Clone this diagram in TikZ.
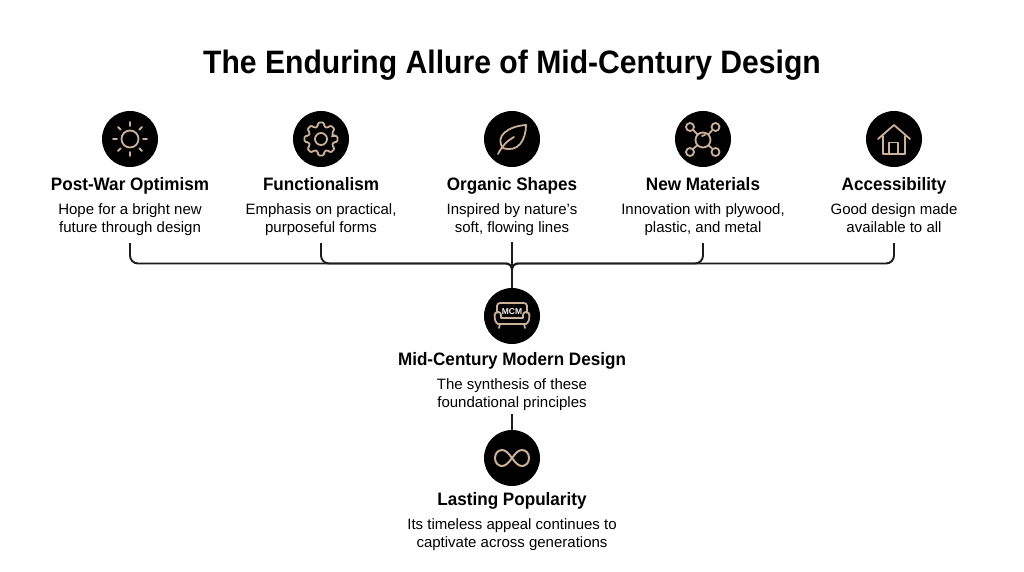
\documentclass[tikz,border=0pt]{standalone}
\usepackage{fontspec}
\setmainfont{Liberation Sans}
\newfontfamily\headfont[FakeStretch=0.95]{Liberation Sans}
\newfontfamily\titlefont[FakeStretch=0.93]{Liberation Sans}
\definecolor{tan}{HTML}{CBB09A}
\definecolor{ink}{HTML}{1C1C1C}
\tikzset{
  x=1pt,y=-1pt,
  disc/.style={circle,fill=black,minimum size=56pt,inner sep=0pt},
  head/.style={inner sep=0pt,align=center,text=black,text height=13pt,text depth=4pt,font=\headfont\fontsize{18}{20}\selectfont\bfseries},
  desc/.style={inner sep=0pt,align=center,text=black,font=\fontsize{15}{18}\selectfont,execute at begin node=\strut,execute at end node=\strut},
  icon/.style={draw=tan,line width=1.8pt,line cap=round,line join=round},
  bar/.style={draw=ink,line width=1.9pt}
}
\begin{document}
\begin{tikzpicture}
\useasboundingbox (0,0) rectangle (1024,572);
\fill[white] (0,0) rectangle (1024,572);
\node[inner sep=0pt,text height=24pt,text depth=7pt,font=\titlefont\fontsize{32.4}{36}\selectfont\bfseries] (title) at (512,65) {The Enduring Allure of Mid-Century Design};
% discs
\node[disc] (a) at (130,139) {};
\node[disc] (b) at (321,139) {};
\node[disc] (c) at (512,139) {};
\node[disc] (d) at (703,139) {};
\node[disc] (e) at (894,139) {};
\node[disc] (m) at (512,316) {};
\node[disc] (l) at (512,458) {};
% texts
\node[head] (at) at (130,186) {Post-War Optimism};
\node[head] (bt) at (321,186) {Functionalism};
\node[head] (ct) at (512,186) {Organic Shapes};
\node[head] (dt) at (703,186) {New Materials};
\node[head] (et) at (894,186) {Accessibility};
\node[desc] (ad) at (130,221) {Hope for a bright new\\future through design};
\node[desc] (bd) at (321,221) {Emphasis on practical,\\purposeful forms};
\node[desc] (cd) at (512,221) {Inspired by nature's\\soft, flowing lines};
\node[desc] (dd) at (703,221) {Innovation with plywood,\\plastic, and metal};
\node[desc] (ed) at (894,221) {Good design made\\available to all};
\node[head] (mt) at (512,361) {Mid-Century Modern Design};
\node[desc] (md) at (512,396) {The synthesis of these\\foundational principles};
\node[head] (lt) at (512,501) {Lasting Popularity};
\node[desc] (ld) at (512,536) {Its timeless appeal continues to\\captivate across generations};
% connectors
\coordinate (pa) at (130,243);
\coordinate (pb) at (321,243);
\coordinate (pc) at (512,242);
\coordinate (pd) at (703,243);
\coordinate (pe) at (894,243);
\coordinate (j) at (512,263.5);
\coordinate (q) at (512,414);
\foreach \p in {pa,pb,pd,pe}{
  \draw[bar] (\p) [rounded corners=8pt] -- (\p |- j) [rounded corners=6pt] -- (j) -- (m.north);
}
\draw[bar] (pc) -- (m.north);
\draw[bar] (q) -- (l.north);
% sun
\begin{scope}[shift={(a.center)}]
\draw[icon] (0,0) circle (8.5);
\foreach \an in {0,45,...,315}{\draw[icon] (\an:13) -- (\an:17);}
\end{scope}
% gear
\begin{scope}[shift={(b.center)}]
\draw[icon] (0,0) circle (6);
\draw[icon,rounded corners=1.5pt] (-14:12.5) \foreach \an in {0,45,...,315}{
  -- ({\an-14}:12.7) -- ({\an-11}:16.8) -- ({\an+11}:16.8) -- ({\an+14}:12.7)} -- cycle;
\end{scope}
% leaf
\begin{scope}[shift={(c.center)}]
\draw[icon] (-9,9) .. controls (-18,-3) and (-3,-13) .. (14,-14) .. controls (14,1) and (6,14) .. (-9,9) -- cycle;
\draw[icon] (-14,15) .. controls (-10,7) and (-4,1) .. (2,-2);
\end{scope}
% network
\begin{scope}[shift={(d.center)}]
\draw[icon] (0,1) circle (7.5);
\draw[icon] (-1,-3) arc (100:40:3.2);
\foreach \sx/\sy in {-13/-12,12.5/-12,-13/13,12.5/13}{
  \draw[icon] (\sx,\sy) circle (4);
  \draw[icon] (\sx*0.44,\sy*0.44+0.6) -- (\sx*0.72,\sy*0.72);
}
\end{scope}
% house
\begin{scope}[shift={(e.center)}]
\draw[icon] (-16,0) -- (0,-14) -- (16,0);
\draw[icon] (-11,-3) -- (-11,15) -- (11,15) -- (11,-3);
\draw[icon] (-5,15) -- (-5,3.5) -- (4,3.5) -- (4,15);
\end{scope}
% sofa
\begin{scope}[shift={(m.center)}]
\draw[icon,rounded corners=3pt] (-15,-3) -- (-15,-13) -- (15,-13) -- (15,-3);
\draw[icon] (-11,-1) -- (-11,2) -- (11,2) -- (11,-1);
\draw[icon] (-11,-1) arc (0:-180:3.2) .. controls (-17.4,3) and (-17,6) .. (-14,8) -- (14,8) .. controls (17,6) and (17.4,3) .. (17.4,-1) arc (0:-180:3.2);
\draw[icon] (-12,8) -- (-13,12);
\draw[icon] (12,8) -- (13,12);
\node[inner sep=0pt,text=white!85!tan,font=\fontsize{8.5}{9}\selectfont\bfseries] (mcm) at (0,-4) {MCM};
\end{scope}
% infinity
\begin{scope}[shift={(l.center)}]
\draw[icon,line width=2pt] (0,0) .. controls (-3.5,-4.5) and (-6,-8) .. (-10,-8) .. controls (-14,-8) and (-17,-4.5) .. (-17,0) .. controls (-17,4.5) and (-14,8) .. (-10,8) .. controls (-6,8) and (-3.5,4.5) .. (0,0) .. controls (3.5,-4.5) and (6,-8) .. (10,-8) .. controls (14,-8) and (17,-4.5) .. (17,0) .. controls (17,4.5) and (14,8) .. (10,8) .. controls (6,8) and (3.5,4.5) .. (0,0) -- cycle;
\end{scope}
\end{tikzpicture}
\end{document}
